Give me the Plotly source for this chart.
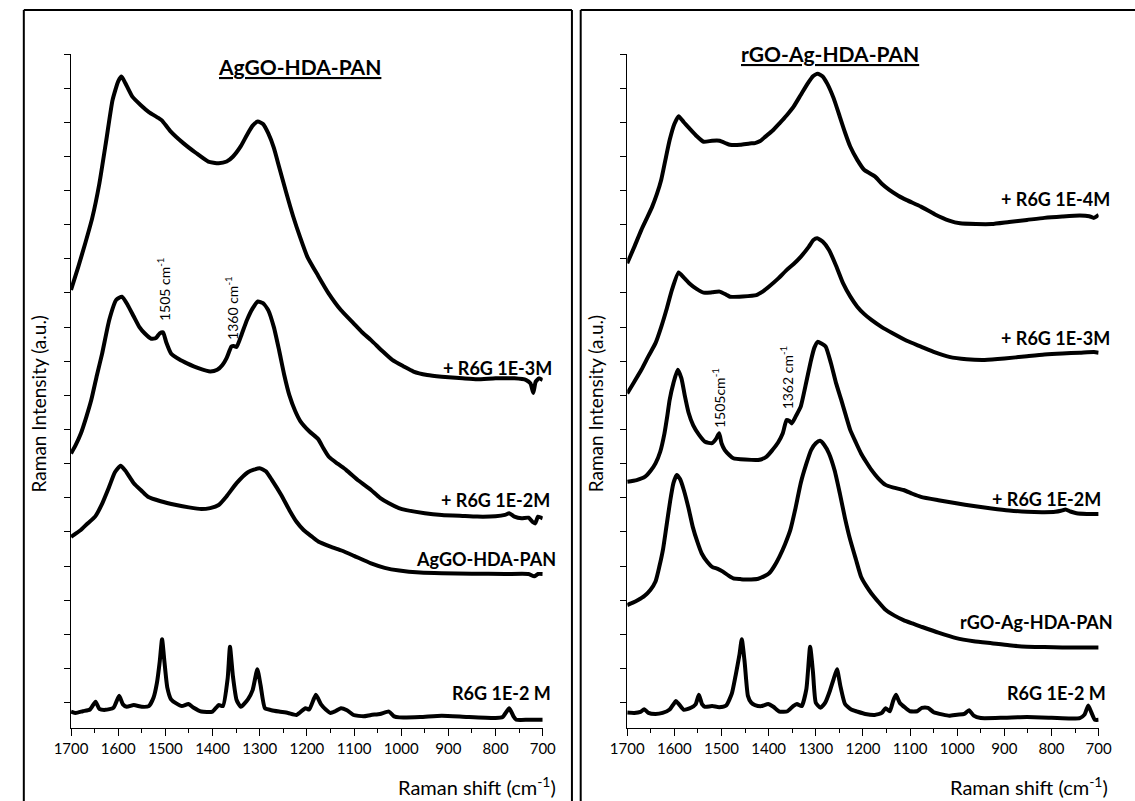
import plotly.graph_objects as go

# ---------------- spectra: AgGO-HDA-PAN panel ----------------
ag_3m_w = [1700, 1685, 1670, 1655, 1640, 1625, 1612, 1600, 1593, 1585, 1570, 1552, 1535, 1514, 1507,
           1490, 1462, 1435, 1409, 1387, 1370, 1357, 1340, 1327, 1315, 1304, 1293, 1282, 1270, 1259,
           1244, 1229, 1214, 1199, 1176, 1154, 1128, 1101, 1083, 1064, 1040, 1019, 995, 974, 945,
           914, 870, 839, 800, 760, 735, 726, 720, 715, 708, 700]
ag_3m_i = [12.09, 12.75, 13.45, 14.2, 15.2, 16.5, 17.65, 18.2, 18.34, 18.15, 17.75, 17.5, 17.3, 17.12, 17.05,
           16.75, 16.39, 16.1, 15.85, 15.8, 15.85, 15.99, 16.3, 16.63, 16.9, 17.02, 16.95, 16.68, 16.25, 15.7,
           14.95, 14.24, 13.62, 13.06, 12.5, 11.99, 11.5, 11.11, 10.85, 10.62, 10.3, 10.04, 9.85, 9.7, 9.6,
           9.55, 9.5, 9.47, 9.5, 9.5, 9.45, 9.35, 9.07, 9.4, 9.5, 9.45]

ag_2m_w = [1700, 1690, 1679, 1668, 1657, 1645, 1634, 1619, 1604, 1592, 1580, 1567, 1555, 1544, 1530,
           1520, 1512, 1505, 1498, 1488, 1470, 1454, 1430, 1405, 1390, 1379, 1370, 1360, 1355, 1349,
           1338, 1327, 1315, 1304, 1293, 1282, 1270, 1259, 1248, 1237, 1225, 1214, 1195, 1176, 1165,
           1154, 1135, 1117, 1090, 1064, 1045, 1026, 1005, 989, 950, 914, 870, 839, 800, 780, 771,
           760, 745, 730, 722, 716, 710, 700]
ag_2m_i = [7.30, 7.55, 7.89, 8.35, 8.87, 9.6, 10.23, 11.21, 11.8, 11.89, 11.65, 11.31, 11.0, 10.82, 10.66,
           10.68, 10.82, 10.85, 10.55, 10.23, 10.05, 9.94, 9.8, 9.7, 9.75, 9.89, 10.1, 10.43, 10.45, 10.42,
           10.8, 11.21, 11.55, 11.75, 11.7, 11.5, 11.0, 10.33, 9.6, 9.0, 8.55, 8.25, 7.95, 7.72, 7.45,
           7.21, 7.0, 6.82, 6.5, 6.23, 6.0, 5.84, 5.7, 5.64, 5.55, 5.5, 5.47, 5.45, 5.46, 5.5, 5.55,
           5.45, 5.4, 5.42, 5.3, 5.25, 5.45, 5.4]

ag_base_w = [1700, 1680, 1665, 1649, 1635, 1619, 1607, 1595, 1585, 1567, 1550, 1537, 1510, 1477, 1450,
             1424, 1405, 1387, 1370, 1349, 1325, 1300, 1287, 1274, 1255, 1237, 1222, 1207, 1190, 1176,
             1150, 1125, 1100, 1064, 1035, 1004, 960, 914, 850, 780, 730, 718, 710, 700]
ag_base_i = [4.86, 5.05, 5.25, 5.45, 5.8, 6.33, 6.75, 6.94, 6.8, 6.43, 6.2, 6.03, 5.9, 5.79, 5.72,
             5.67, 5.7, 5.79, 6.05, 6.43, 6.75, 6.87, 6.78, 6.52, 6.1, 5.64, 5.3, 5.06, 4.87, 4.72,
             4.57, 4.45, 4.3, 4.08, 3.95, 3.87, 3.81, 3.79, 3.78, 3.77, 3.77, 3.7, 3.77, 3.77]

r6g_a_w = [1700, 1690, 1675, 1660, 1648, 1640, 1627, 1610, 1598, 1590, 1582, 1567, 1550, 1535, 1525,
           1518, 1512, 1507, 1502, 1496, 1488, 1477, 1465, 1451, 1440, 1424, 1400, 1387, 1378, 1368,
           1363, 1357, 1349, 1340, 1325, 1315, 1305, 1298, 1289, 1275, 1259, 1240, 1222, 1203, 1195,
           1181, 1170, 1160, 1150, 1140, 1128, 1115, 1101, 1080, 1064, 1045, 1026, 1015, 1004, 960,
           914, 860, 800, 785, 771, 762, 756, 730, 700]
r6g_a_i = [-0.26, -0.3, -0.25, -0.2, 0.03, -0.18, -0.21, -0.15, 0.2, -0.05, -0.12, -0.07, -0.12, -0.1, 0.15,
           0.57, 1.2, 1.86, 1.2, 0.45, 0.1, -0.02, -0.1, -0.04, -0.15, -0.26, -0.26, -0.07, -0.1, 0.7,
           1.64, 0.8, 0.08, -0.12, 0.1, 0.37, 0.98, 0.5, -0.16, -0.22, -0.26, -0.3, -0.36, -0.16, -0.2,
           0.23, -0.05, -0.2, -0.3, -0.25, -0.16, -0.22, -0.36, -0.4, -0.36, -0.33, -0.26, -0.4, -0.43, -0.42,
           -0.38, -0.42, -0.45, -0.42, -0.16, -0.4, -0.5, -0.5, -0.5]

# ---------------- spectra: rGO-Ag-HDA-PAN panel ----------------
rg_4m_w = [1700, 1685, 1670, 1658, 1647, 1637, 1628, 1619, 1610, 1600, 1591, 1580, 1568, 1553, 1538,
           1520, 1504, 1490, 1482, 1460, 1440, 1429, 1418, 1407, 1392, 1377, 1362, 1347, 1332, 1317,
           1306, 1296, 1286, 1276, 1262, 1249, 1238, 1227, 1212, 1197, 1185, 1174, 1160, 1144, 1125,
           1107, 1077, 1047, 1017, 994, 960, 927, 890, 852, 815, 777, 740, 720, 710, 700]
rg_4m_i = [12.87, 13.35, 13.85, 14.2, 14.53, 14.9, 15.31, 15.9, 16.48, 16.95, 17.18, 17.0, 16.82, 16.6, 16.43,
           16.46, 16.46, 16.38, 16.34, 16.34, 16.38, 16.39, 16.45, 16.58, 16.75, 16.97, 17.2, 17.46, 17.8, 18.14,
           18.35, 18.42, 18.35, 18.14, 17.7, 17.16, 16.7, 16.29, 15.9, 15.6, 15.5, 15.41, 15.2, 15.02, 14.85,
           14.72, 14.53, 14.3, 14.12, 14.04, 14.02, 14.02, 14.08, 14.14, 14.2, 14.24, 14.27, 14.25, 14.2, 14.29]

rg_3m_w = [1700, 1685, 1670, 1655, 1640, 1628, 1617, 1605, 1591, 1580, 1568, 1553, 1538, 1520, 1504,
           1490, 1482, 1455, 1426, 1412, 1399, 1380, 1362, 1347, 1332, 1315, 1305, 1297, 1285, 1272,
           1257, 1242, 1227, 1212, 1197, 1182, 1160, 1137, 1107, 1077, 1047, 1017, 980, 942, 900,
           852, 815, 777, 740, 710, 700]
rg_3m_i = [9.06, 9.4, 9.75, 10.15, 10.53, 11.0, 11.5, 12.1, 12.6, 12.45, 12.28, 12.12, 12.01, 12.02, 12.04,
           11.95, 11.89, 11.9, 11.94, 12.05, 12.19, 12.42, 12.67, 12.85, 13.06, 13.35, 13.55, 13.6, 13.5, 13.26,
           12.8, 12.28, 11.9, 11.6, 11.38, 11.21, 11.0, 10.82, 10.6, 10.43, 10.26, 10.13, 10.06, 10.04, 10.08,
           10.15, 10.2, 10.23, 10.25, 10.27, 10.25]

rg_2m_w = [1700, 1680, 1662, 1650, 1640, 1630, 1621, 1615, 1610, 1602, 1593, 1585, 1578, 1570, 1560,
           1548, 1535, 1520, 1512, 1505, 1500, 1493, 1483, 1475, 1450, 1422, 1405, 1392, 1380,
           1370, 1362, 1356, 1351, 1342, 1332, 1320, 1310, 1303, 1296, 1288, 1279, 1268, 1257, 1246,
           1236, 1227, 1215, 1204, 1193, 1182, 1168, 1152, 1135, 1114, 1095, 1077, 1040, 1002, 965,
           927, 890, 852, 815, 792, 780, 770, 760, 747, 725, 700]
rg_2m_i = [6.47, 6.52, 6.62, 6.8, 7.01, 7.35, 7.89, 8.4, 8.87, 9.36, 9.75, 9.5, 9.0, 8.5, 8.12,
           7.85, 7.64, 7.6, 7.72, 7.89, 7.6, 7.4, 7.25, 7.16, 7.12, 7.11, 7.2, 7.4, 7.62,
           7.89, 8.28, 8.25, 8.18, 8.4, 8.67, 9.4, 10.04, 10.4, 10.57, 10.52, 10.43, 9.95, 9.36, 8.87,
           8.4, 7.99, 7.62, 7.3, 7.05, 6.82, 6.58, 6.38, 6.3, 6.23, 6.12, 6.03, 5.93, 5.84, 5.76,
           5.69, 5.63, 5.59, 5.58, 5.59, 5.62, 5.66, 5.6, 5.55, 5.53, 5.53]

rg_base_w = [1700, 1688, 1677, 1664, 1651, 1640, 1632, 1624, 1617, 1609, 1602, 1595, 1588, 1580, 1570,
             1561, 1551, 1542, 1530, 1520, 1508, 1497, 1485, 1475, 1460, 1452, 1437, 1422, 1410, 1399,
             1388, 1377, 1365, 1354, 1343, 1332, 1320, 1310, 1300, 1291, 1282, 1272, 1260, 1249, 1238,
             1227, 1215, 1204, 1193, 1182, 1167, 1152, 1133, 1114, 1095, 1077, 1040, 1002, 965, 927,
             890, 852, 815, 777, 740, 700]
rg_base_i = [2.86, 2.93, 3.01, 3.12, 3.3, 3.55, 3.98, 4.5, 5.15, 5.9, 6.43, 6.67, 6.55, 6.23, 5.7,
             5.15, 4.7, 4.37, 4.12, 3.98, 3.92, 3.84, 3.72, 3.64, 3.62, 3.61, 3.61, 3.63, 3.7, 3.79,
             4.0, 4.28, 4.65, 5.06, 5.7, 6.43, 7.0, 7.4, 7.6, 7.67, 7.55, 7.3, 6.8, 6.13, 5.4,
             4.77, 4.2, 3.69, 3.42, 3.2, 2.95, 2.72, 2.55, 2.42, 2.32, 2.23, 2.05, 1.89, 1.8, 1.74,
             1.68, 1.64, 1.63, 1.62, 1.62, 1.62]

r6g_b_w = [1700, 1685, 1672, 1664, 1655, 1640, 1625, 1610, 1602, 1597, 1590, 1580, 1565, 1555, 1548,
           1541, 1535, 1520, 1505, 1490, 1478, 1470, 1462, 1457, 1451, 1444, 1437, 1429, 1415, 1401,
           1390, 1377, 1360, 1348, 1340, 1330, 1320, 1312, 1306, 1300, 1290, 1280, 1270, 1262, 1255,
           1248, 1238, 1225, 1212, 1195, 1175, 1160, 1152, 1143, 1136, 1130, 1122, 1110, 1100, 1085,
           1075, 1062, 1050, 1030, 1017, 1000, 985, 975, 965, 950, 900, 852, 800, 760, 740, 730,
           722, 715, 708, 700]
r6g_b_i = [-0.29, -0.3, -0.27, -0.19, -0.3, -0.33, -0.3, -0.2, -0.05, 0.05, -0.05, -0.21, -0.15, -0.05, 0.23,
           -0.05, -0.12, -0.1, -0.13, -0.08, 0.27, 0.8, 1.4, 1.86, 1.2, 0.2, 0.0, -0.07, -0.1, -0.04,
           -0.12, -0.26, -0.25, -0.1, -0.04, -0.1, 0.4, 1.64, 0.9, 0.0, -0.15, 0.0, 0.35, 0.7, 0.98,
           0.5, -0.04, -0.2, -0.26, -0.33, -0.36, -0.3, -0.16, -0.25, 0.05, 0.23, 0.0, -0.15, -0.25, -0.25,
           -0.15, -0.15, -0.28, -0.35, -0.38, -0.35, -0.33, -0.22, -0.38, -0.45, -0.44, -0.42, -0.44, -0.46, -0.45, -0.35,
           -0.08, -0.3, -0.5, -0.5]

# ---------------- labels ----------------
left_title = "AgGO-HDA-PAN"
right_title = "rGO-Ag-HDA-PAN"
left_names = ["+ R6G 1E-3M", "+ R6G 1E-2M", "AgGO-HDA-PAN", "R6G 1E-2 M"]
right_names = ["+ R6G 1E-4M", "+ R6G 1E-3M", "+ R6G 1E-2M", "rGO-Ag-HDA-PAN", "R6G 1E-2 M"]
x_ticks = [1700, 1600, 1500, 1400, 1300, 1200, 1100, 1000, 900, 800, 700]
y_ticks = list(range(0, 20))
x_title = "Raman shift (cm<sup>-1</sup>)"
y_title = "Raman Intensity (a.u.)"
# marked R6G bands: (panel, wavenumber, label)
bands = [("x", 1505, "1505 cm<sup>-1</sup>"), ("x", 1360, "1360 cm<sup>-1</sup>"),
         ("x2", 1505, "1505cm<sup>-1</sup>"), ("x2", 1362, "1362 cm<sup>-1</sup>")]

W, H = 1135, 801
FONT = "Lato"


def px(x):
    return x / W


def py(y):
    return 1 - y / H


fig = go.Figure()

left_series = [(ag_3m_w, ag_3m_i), (ag_2m_w, ag_2m_i), (ag_base_w, ag_base_i), (r6g_a_w, r6g_a_i)]
right_series = [(rg_4m_w, rg_4m_i), (rg_3m_w, rg_3m_i), (rg_2m_w, rg_2m_i), (rg_base_w, rg_base_i),
                (r6g_b_w, r6g_b_i)]

for (w, i), name in zip(left_series, left_names):
    fig.add_trace(go.Scatter(x=w, y=i, mode="lines", name=name, xaxis="x", yaxis="y",
                             line=dict(color="black", width=4, shape="spline", smoothing=0.5),
                             showlegend=False))
for (w, i), name in zip(right_series, right_names):
    fig.add_trace(go.Scatter(x=w, y=i, mode="lines", name=name, xaxis="x2", yaxis="y2",
                             line=dict(color="black", width=4, shape="spline", smoothing=0.5),
                             showlegend=False))

y_dom = [py(728.3), py(54)]
xcommon = dict(range=[1700, 700], tickvals=x_ticks, ticks="outside", ticklen=7, tickwidth=1,
               tickcolor="black", showline=True, linecolor="black", linewidth=1,
               showgrid=False, zeroline=False, tickfont=dict(family=FONT, size=15, color="black"),
               minor=dict(dtick=50, tick0=1700, ticks="outside", ticklen=4, tickcolor="black", tickwidth=1))
ycommon = dict(range=[-0.75, 19], tickvals=y_ticks, ticks="outside", ticklen=6, tickwidth=1,
               tickcolor="black", showline=True, linecolor="black", linewidth=1,
               showticklabels=False, showgrid=False, zeroline=False)

fig.update_layout(
    width=W, height=H, margin=dict(l=0, r=0, t=0, b=0),
    paper_bgcolor="white", plot_bgcolor="white",
    xaxis=dict(domain=[px(55.5), px(540)], anchor="y", **xcommon),
    yaxis=dict(domain=y_dom, anchor="x", **ycommon),
    xaxis2=dict(domain=[px(626.8), px(1111)], anchor="y2", **xcommon),
    yaxis2=dict(domain=y_dom, anchor="x2", **ycommon),
)

# panel frames
frame = dict(color="black", width=2)
shapes = [
    dict(type="line", xref="paper", yref="paper", x0=px(7), x1=px(7), y0=py(10), y1=-0.02, line=frame),
    dict(type="line", xref="paper", yref="paper", x0=px(7), x1=px(570), y0=py(10), y1=py(10), line=frame),
    dict(type="line", xref="paper", yref="paper", x0=px(570), x1=px(570), y0=py(10), y1=-0.02, line=frame),
    dict(type="line", xref="paper", yref="paper", x0=px(579), x1=px(579), y0=py(10), y1=-0.02, line=frame),
    dict(type="line", xref="paper", yref="paper", x0=px(579), x1=1.02, y0=py(10), y1=py(10), line=frame),
]
fig.update_layout(shapes=shapes)

ann = []


def text(x, y, s, size, xanchor="center", angle=0):
    ann.append(dict(xref="paper", yref="paper", x=px(x), y=py(y), text=s, showarrow=False,
                    xanchor=xanchor, yanchor="middle", textangle=angle,
                    font=dict(family=FONT, size=size, color="black")))


# panel titles
text(290, 67, "<b><u>" + left_title + "</u></b>", 21)
text(835, 54, "<b><u>" + right_title + "</u></b>", 21)

# axis titles
text(22, 404, y_title, 19, angle=-90)
text(594, 404, y_title, 19, angle=-90)
text(556, 786, x_title, 20, xanchor="right")
text(1123, 786, x_title, 20, xanchor="right")

# curve labels
for name, (xr, yc) in zip(left_names, [(552, 368), (550, 500), (556, 559), (551, 693)]):
    text(xr, yc, "<b>" + name + "</b>", 18, xanchor="right")
for name, (xr, yc) in zip(right_names, [(1125, 199), (1125, 338), (1115, 499), (1128, 622), (1121, 693)]):
    text(xr, yc, "<b>" + name + "</b>", 18, xanchor="right")

# band markers above the 1E-2M spectra
band_y = {("x", 1505): 11.12, ("x", 1360): 10.58, ("x2", 1505): 7.99, ("x2", 1362): 8.52}
for xa, wn, s in bands:
    ann.append(dict(xref=xa, yref="y" if xa == "x" else "y2", x=wn, y=band_y[(xa, wn)], text=s,
                    showarrow=False, textangle=-90, xanchor="center", yanchor="bottom",
                    font=dict(family=FONT, size=14, color="black")))

fig.update_layout(annotations=ann)
fig.write_html("out.html")
